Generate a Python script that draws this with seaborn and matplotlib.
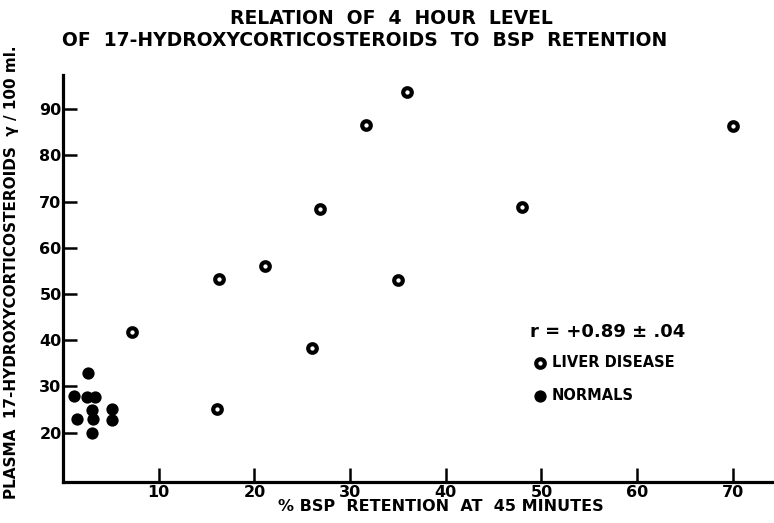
import numpy as np
import pandas as pd
import matplotlib
matplotlib.use('Agg')
import matplotlib.pyplot as plt
import seaborn as sns

# values
liver_bsp = [7.2, 16.1, 16.3, 21.1, 26.0, 26.9, 31.7, 35.0, 35.9, 48.0, 70.0]
liver_ohcs = [41.8, 25.1, 53.2, 56.1, 38.3, 68.4, 86.5, 53.1, 93.7, 68.8, 86.4]

normal_bsp = [2.6, 1.2, 2.5, 3.3, 3.0, 5.1, 1.5, 3.1, 5.1, 3.0]
normal_ohcs = [32.8, 28.0, 27.8, 27.8, 24.9, 25.1, 22.9, 22.9, 22.7, 20.0]

x_ticks = [10, 20, 30, 40, 50, 60, 70]
y_ticks = [20, 30, 40, 50, 60, 70, 80, 90]

liver = pd.DataFrame({'bsp': liver_bsp, 'ohcs': liver_ohcs})
normals = pd.DataFrame({'bsp': normal_bsp, 'ohcs': normal_ohcs})

sns.set_style('ticks')
plt.rcParams['font.family'] = ['DejaVu Sans']
plt.rcParams['font.weight'] = 'bold'
plt.rcParams['text.color'] = 'black'
plt.rcParams['axes.labelcolor'] = 'black'
plt.rcParams['xtick.color'] = 'black'
plt.rcParams['ytick.color'] = 'black'

fig = plt.figure(figsize=(7.74, 5.23), dpi=100)
ax = fig.add_axes([63/774, 41/523, 711/774, 407/523])

sns.scatterplot(data=liver, x='bsp', y='ohcs', ax=ax, color='white',
                edgecolor='black', linewidth=3.0, s=38, label='LIVER DISEASE', zorder=3)
sns.scatterplot(data=normals, x='bsp', y='ohcs', ax=ax, color='black',
                edgecolor='black', linewidth=0, s=78, label='NORMALS', zorder=3)

ax.set_xlim(0, 74.3)
ax.set_ylim(9.3, 97.4)
ax.set_xticks(x_ticks)
ax.set_yticks(y_ticks)
ax.tick_params(direction='in', length=10, width=1.8, labelsize=11.5)
ax.tick_params(axis='x', pad=2)
ax.tick_params(axis='y', pad=1)
for lab in ax.get_xticklabels() + ax.get_yticklabels():
    lab.set_fontweight('bold')

sns.despine(ax=ax)
for side in ['left', 'bottom']:
    ax.spines[side].set_linewidth(2.3)
    ax.spines[side].set_color('black')

ax.set_xlabel('% BSP  RETENTION  AT  45 MINUTES', fontsize=11.5, fontweight='bold')
ax.xaxis.set_label_coords(0.532, -0.041)
ax.set_ylabel('PLASMA  17-HYDROXYCORTICOSTEROIDS  γ / 100 ml.', fontsize=11, fontweight='bold')
ax.yaxis.set_label_coords(-0.062, 0.516)

fig.text(391/774, 1 - 18.5/523, 'RELATION  OF  4  HOUR  LEVEL', ha='center', va='center',
         fontsize=13.5, fontweight='bold')
fig.text(365/774, 1 - 40/523, 'OF  17-HYDROXYCORTICOSTEROIDS  TO  BSP  RETENTION', ha='center',
         va='center', fontsize=13.5, fontweight='bold')

ax.text(0.657, 0.369, 'r = +0.89 ± .04', transform=ax.transAxes, ha='left', va='center',
        fontsize=13, fontweight='bold')

leg = ax.legend(loc='upper left', bbox_to_anchor=(0.661, 0.312), frameon=False,
                handlelength=1.0, handletextpad=0.3, borderpad=0, borderaxespad=0,
                labelspacing=1.25, prop={'size': 10.5, 'weight': 'bold'})

fig.savefig('out.png', dpi=100)
